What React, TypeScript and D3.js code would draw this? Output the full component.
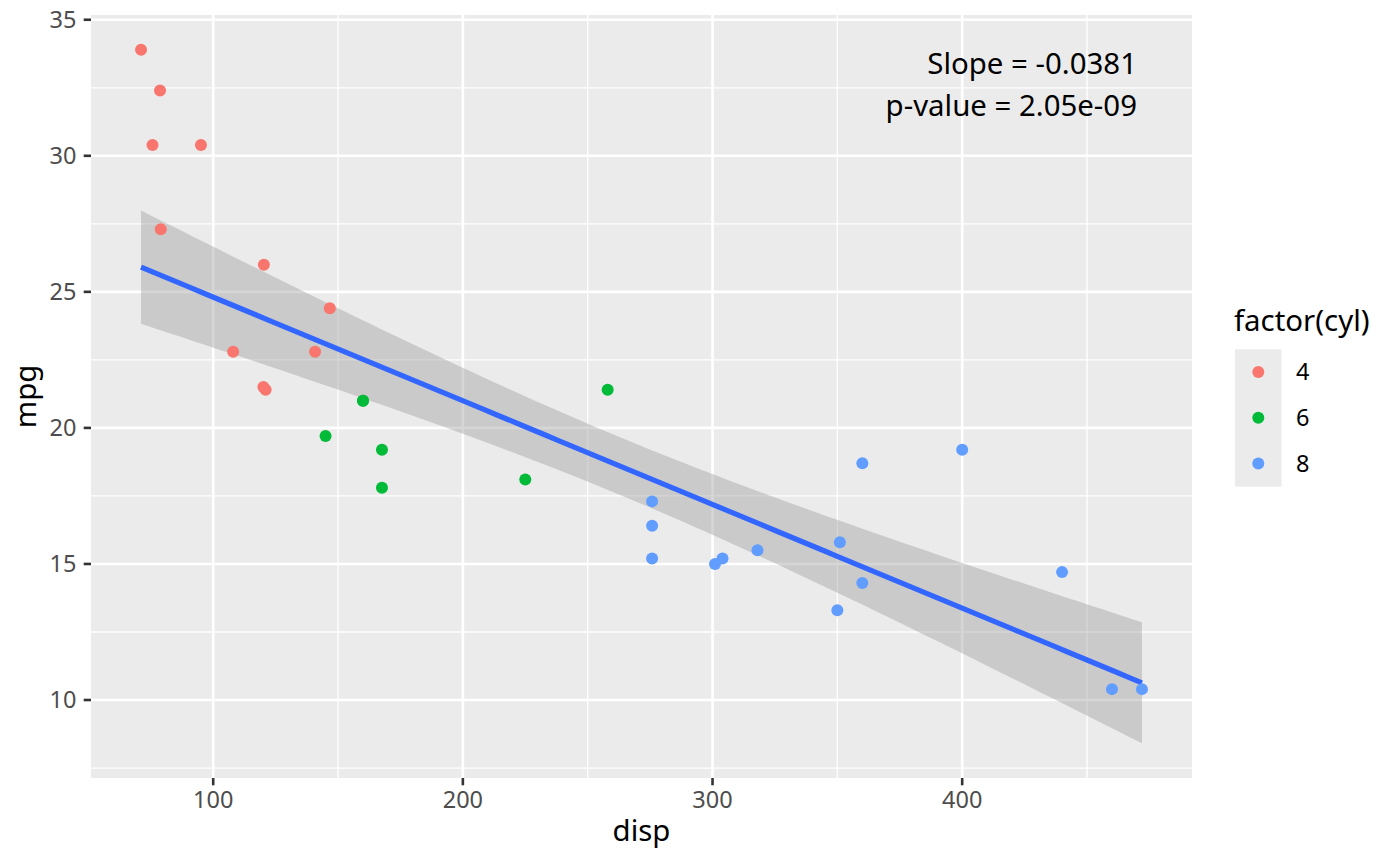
import React from "react";
import * as d3 from "d3";

// mtcars: displacement, miles per gallon, cylinders
const disp = [160, 160, 108, 258, 360, 225, 360, 146.7, 140.8, 167.6, 167.6, 275.8, 275.8, 275.8, 472, 460, 440, 78.7, 75.7, 71.1, 120.1, 318, 304, 350, 400, 79, 120.3, 95.1, 351, 145, 301, 121];
const mpg = [21, 21, 22.8, 21.4, 18.7, 18.1, 14.3, 24.4, 22.8, 19.2, 17.8, 16.4, 17.3, 15.2, 10.4, 10.4, 14.7, 32.4, 30.4, 33.9, 21.5, 15.5, 15.2, 13.3, 19.2, 27.3, 26, 30.4, 15.8, 19.7, 15, 21.4];
const cyl = [6, 6, 4, 6, 8, 6, 8, 4, 4, 6, 6, 8, 8, 8, 8, 8, 8, 4, 4, 4, 4, 8, 8, 8, 8, 4, 4, 4, 8, 6, 8, 4];

const cylLevels = ["4", "6", "8"];
const cylColors = ["#F8766D", "#00BA38", "#619CFF"];

// fitted smooth
const fitSlope = -0.0381;
const fitIntercept = 28.616;
const bandCenter = 262.8;
const bandBase = 1.1226;
const bandCurv = 8.74e-5;

const xTicks = [100, 200, 300, 400];
const xMinor = [150, 250, 350, 450];
const yTicks = [10, 15, 20, 25, 30, 35];
const yMinor = [7.5, 12.5, 17.5, 22.5, 27.5, 32.5];

const annotation = ["Slope = -0.0381", "p-value = 2.05e-09"];

const W = 1400;
const H = 866;
const M = { left: 91, right: 1192, top: 15, bottom: 778 };
const FONT = "'Noto Sans', 'Open Sans', sans-serif";
const TICK_FS = 23.5;
const TITLE_FS = 29.4;

export default function App() {
  const dMin = d3.min(disp) as number;
  const dMax = d3.max(disp) as number;
  const grid = d3.range(80).map((i) => dMin + ((dMax - dMin) * i) / 79);
  const band = grid.map((d) => {
    const fit = fitIntercept + fitSlope * d;
    const hw = Math.sqrt(bandBase + bandCurv * (d - bandCenter) ** 2);
    return { d, fit, lo: fit - hw, hi: fit + hw };
  });

  const xr = dMax - dMin;
  const x = d3.scaleLinear().domain([dMin - 0.05 * xr, dMax + 0.05 * xr]).range([M.left, M.right]);
  const yLo = Math.min(d3.min(mpg) as number, d3.min(band, (b) => b.lo) as number);
  const yHi = Math.max(d3.max(mpg) as number, d3.max(band, (b) => b.hi) as number);
  const yr = yHi - yLo;
  const y = d3.scaleLinear().domain([yLo - 0.05 * yr, yHi + 0.05 * yr]).range([M.bottom, M.top]);

  const area = d3.area<any>().x((b) => x(b.d)).y0((b) => y(b.lo)).y1((b) => y(b.hi));
  const line = d3.line<any>().x((b) => x(b.d)).y((b) => y(b.fit));
  const color = d3.scaleOrdinal<string, string>().domain(cylLevels).range(cylColors);

  const pts = disp.map((d, i) => ({ d, m: mpg[i], c: String(cyl[i]) }));

  return (
    <svg width={W} height={H} style={{ position: "absolute", left: 0, top: 0, background: "#fff" }} fontFamily={FONT}>
      <rect x={M.left} y={M.top} width={M.right - M.left} height={M.bottom - M.top} fill="#EBEBEB" />
      {xMinor.map((t) => (
        <line key={"xm" + t} x1={x(t)} x2={x(t)} y1={M.top} y2={M.bottom} stroke="#fff" strokeWidth={1.3} />
      ))}
      {yMinor.map((t) => (
        <line key={"ym" + t} y1={y(t)} y2={y(t)} x1={M.left} x2={M.right} stroke="#fff" strokeWidth={1.3} />
      ))}
      {xTicks.map((t) => (
        <line key={"xM" + t} x1={x(t)} x2={x(t)} y1={M.top} y2={M.bottom} stroke="#fff" strokeWidth={2.6} />
      ))}
      {yTicks.map((t) => (
        <line key={"yM" + t} y1={y(t)} y2={y(t)} x1={M.left} x2={M.right} stroke="#fff" strokeWidth={2.6} />
      ))}
      <path d={area(band) || ""} fill="#999999" fillOpacity={0.4} />
      <path d={line(band) || ""} fill="none" stroke="#3366FF" strokeWidth={5.2} />
      {pts.map((p, i) => (
        <circle key={i} cx={x(p.d)} cy={y(p.m)} r={6} fill={color(p.c)} />
      ))}
      {annotation.map((s, i) => (
        <text key={s} x={x(470)} y={74 + i * 42} textAnchor="end" fontSize={TITLE_FS} fill="#000">
          {s}
        </text>
      ))}
      {/* axes */}
      {xTicks.map((t) => (
        <g key={"xt" + t}>
          <line x1={x(t)} x2={x(t)} y1={M.bottom} y2={M.bottom + 7.3} stroke="#333" strokeWidth={2.6} />
          <text x={x(t)} y={M.bottom + 30} textAnchor="middle" fontSize={TICK_FS} fill="#4D4D4D">
            {t}
          </text>
        </g>
      ))}
      {yTicks.map((t) => (
        <g key={"yt" + t}>
          <line x1={M.left - 7.3} x2={M.left} y1={y(t)} y2={y(t)} stroke="#333" strokeWidth={2.6} />
          <text x={M.left - 14.5} y={y(t)} dy="0.36em" textAnchor="end" fontSize={TICK_FS} fill="#4D4D4D">
            {t}
          </text>
        </g>
      ))}
      <text x={(M.left + M.right) / 2} y={841} textAnchor="middle" fontSize={TITLE_FS} fill="#000">
        disp
      </text>
      <text transform={`translate(36, ${(M.top + M.bottom) / 2}) rotate(-90)`} textAnchor="middle" fontSize={TITLE_FS} fill="#000">
        mpg
      </text>
      {/* legend */}
      <text x={1234} y={331} fontSize={TITLE_FS} fill="#000">
        factor(cyl)
      </text>
      <rect x={1235} y={349.3} width={46.5} height={137.4} fill="#EBEBEB" />
      {cylLevels.map((c, i) => (
        <g key={"lg" + c}>
          <circle cx={1258.3} cy={372 + i * 45.8} r={6} fill={color(c)} />
          <text x={1296} y={372 + i * 45.8} dy="0.36em" fontSize={TICK_FS} fill="#000">
            {c}
          </text>
        </g>
      ))}
    </svg>
  );
}
